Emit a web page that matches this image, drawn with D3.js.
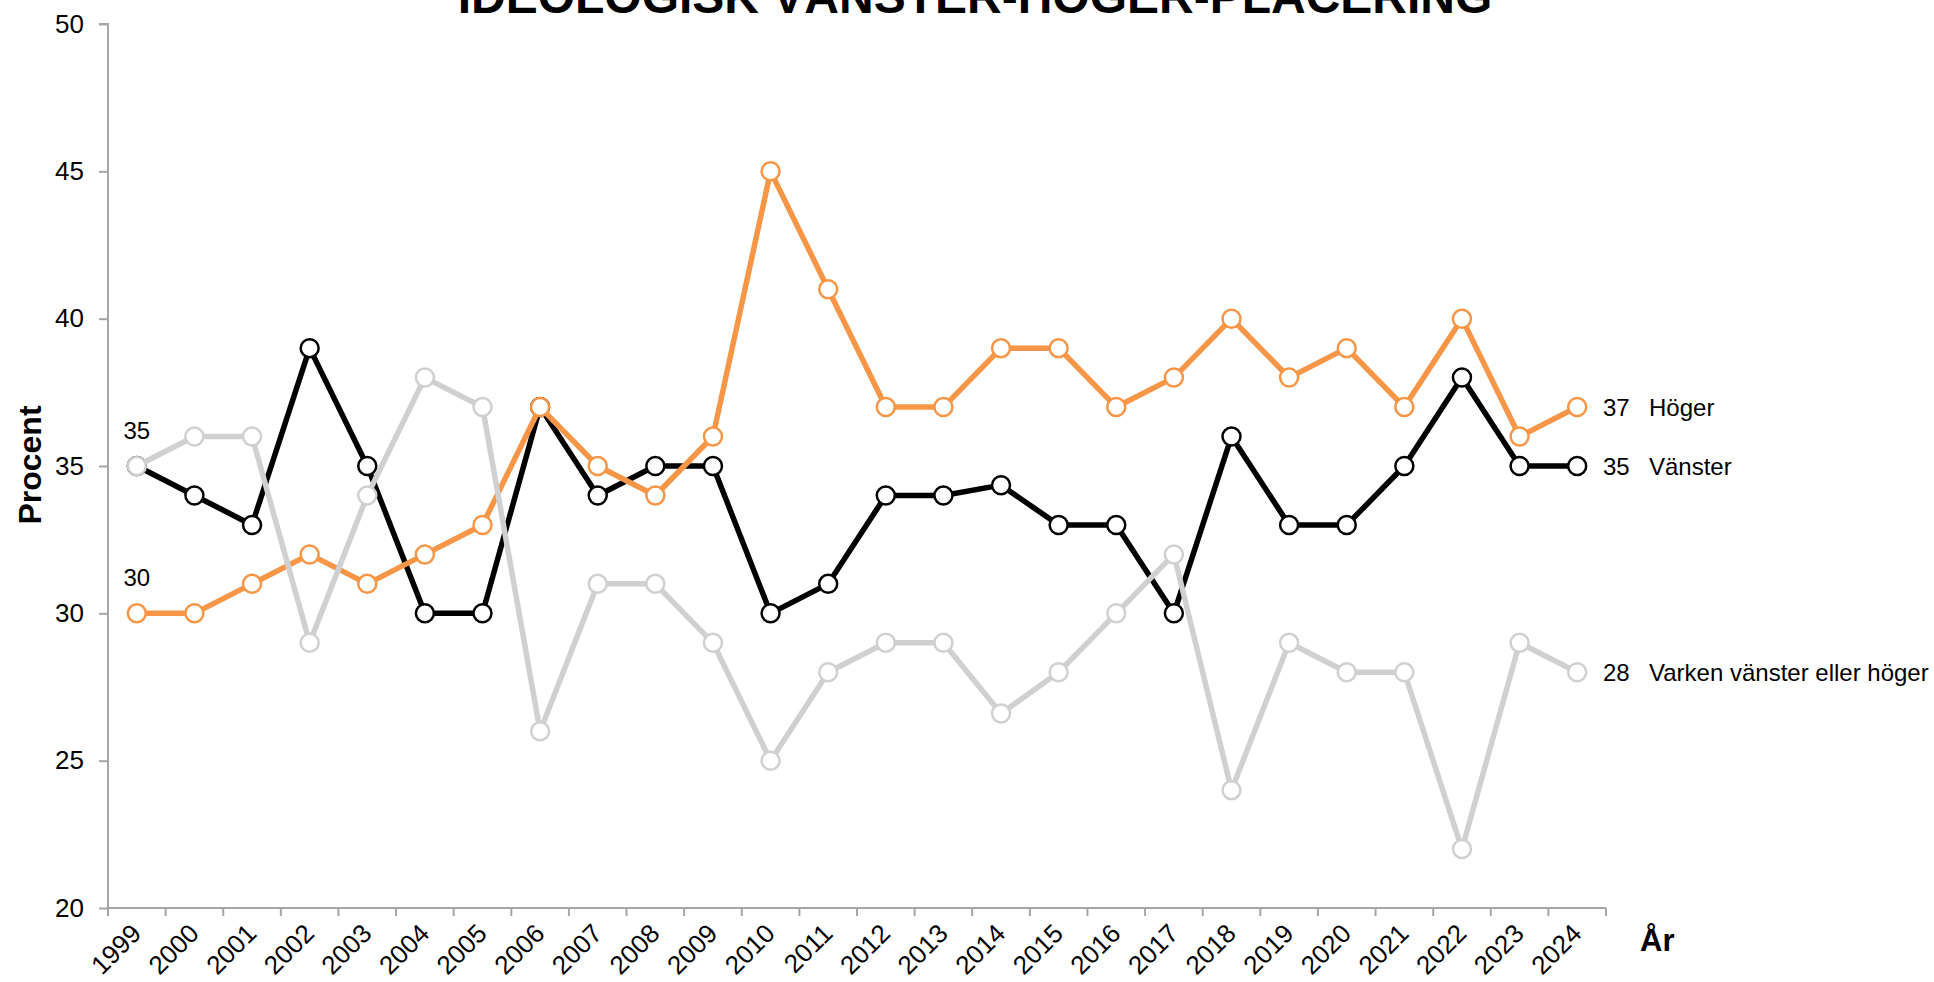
<!DOCTYPE html>
<html>
<head>
<meta charset="utf-8">
<script src="https://cdn.jsdelivr.net/npm/d3@7"></script>
<style>
  body { margin: 0; background: #fff; }
  svg { display: block; font-family: "Liberation Sans", Arial, sans-serif; }
</style>
</head>
<body>
<svg id="chart"></svg>
<script>
const years = [1999, 2000, 2001, 2002, 2003, 2004, 2005, 2006, 2007, 2008, 2009, 2010, 2011,
               2012, 2013, 2014, 2015, 2016, 2017, 2018, 2019, 2020, 2021, 2022, 2023, 2024]

const vanster = [35, 34, 33, 39, 35, 30, 30, 37, 34, 35, 35, 30, 31,
                 34, 34, 34.35, 33, 33, 30, 36, 33, 33, 35, 38, 35, 35]
const hoger = [30, 30, 31, 32, 31, 32, 33, 37, 35, 34, 36, 45, 41,
               37, 37, 39, 39, 37, 38, 40, 38, 39, 37, 40, 36, 37]
const varken = [35, 36, 36, 29, 34, 38, 37, 26, 31, 31, 29, 25, 28,
                29, 29, 26.6, 28, 30, 32, 24, 29, 28, 28, 22, 29, 28]

const seriesNames = ["Vänster", "Höger", "Varken vänster eller höger"]
const yTicks = [20, 25, 30, 35, 40, 45, 50]

const w = 1934
const h = 982
const padLeft = 108, padRight = 1606, padTop = 24, padBottom = 908

const svg = d3.select("#chart")
    .attr("width", w)
    .attr("height", h)

// scales
const xScale = d3.scaleBand()
    .domain(years)
    .range([padLeft, padRight])

const yScale = d3.scaleLinear()
    .domain([20, 50])
    .range([padBottom, padTop])

const cx = d => xScale(d) + xScale.bandwidth() / 2

// title (partly cut off at the top, as in the original)
svg.append("text")
    .attr("x", 975)
    .attr("y", 13)
    .attr("text-anchor", "middle")
    .style("font-size", "48px")
    .style("font-weight", "bold")
    .text("IDEOLOGISK VÄNSTER-HÖGER-PLACERING")

// y axis
const axisLeft = d3.axisLeft(yScale)
    .tickValues(yTicks)
    .tickSize(9)
    .tickPadding(15)

const gy = svg.append("g")
    .attr("transform", `translate(${padLeft}, 0)`)
    .call(axisLeft)

gy.select(".domain").attr("stroke", "#a6a6a6").attr("stroke-width", 2).attr("d", `M-9,${padTop}H0V${padBottom}`)
gy.selectAll(".tick line").attr("stroke", "#a6a6a6").attr("stroke-width", 2)
gy.selectAll(".tick text")
    .style("font-size", "26px")
    .style("font-family", "Liberation Sans, Arial, sans-serif")
    .attr("fill", "#000")

// x axis (ticks between categories)
svg.append("line")
    .attr("x1", padLeft).attr("x2", padRight)
    .attr("y1", padBottom).attr("y2", padBottom)
    .attr("stroke", "#a6a6a6").attr("stroke-width", 2)

svg.selectAll(".xtick")
    .data(years.map(d => xScale(d)).concat([padRight]))
    .enter()
    .append("line")
    .attr("class", "xtick")
    .attr("x1", d => d).attr("x2", d => d)
    .attr("y1", padBottom).attr("y2", padBottom + 8)
    .attr("stroke", "#a6a6a6").attr("stroke-width", 2)

svg.selectAll(".xlabel")
    .data(years)
    .enter()
    .append("text")
    .attr("class", "xlabel")
    .attr("transform", d => `translate(${cx(d) + 6}, 935) rotate(-45)`)
    .attr("text-anchor", "end")
    .style("font-size", "26px")
    .text(d => d)

// axis titles
svg.append("text")
    .attr("transform", "translate(41, 465) rotate(-90)")
    .attr("text-anchor", "middle")
    .style("font-size", "32px")
    .style("font-weight", "bold")
    .text("Procent")

svg.append("text")
    .attr("x", 1640)
    .attr("y", 951)
    .style("font-size", "31px")
    .style("font-weight", "bold")
    .text("År")

// lines
const line = d3.line()
    .x((d, i) => cx(years[i]))
    .y(d => yScale(d))

const series = [
    { name: seriesNames[0], values: vanster, color: "#000000" },
    { name: seriesNames[1], values: hoger, color: "#f79646" },
    { name: seriesNames[2], values: varken, color: "#d0d0d0" }
]

series.forEach(s => {
    svg.append("path")
        .datum(s.values)
        .attr("fill", "none")
        .attr("stroke", s.color)
        .attr("stroke-width", 5.5)
        .attr("stroke-linejoin", "round")
        .attr("d", line)

    svg.selectAll(null)
        .data(s.values)
        .enter()
        .append("circle")
        .attr("cx", (d, i) => cx(years[i]))
        .attr("cy", d => yScale(d))
        .attr("r", 9)
        .attr("fill", "#fff")
        .attr("stroke", s.color)
        .attr("stroke-width", 2.5)
})

// first-year labels
svg.append("text")
    .attr("x", cx(years[0]))
    .attr("y", yScale(vanster[0]) - 27)
    .attr("text-anchor", "middle")
    .style("font-size", "24px")
    .text(vanster[0])

svg.append("text")
    .attr("x", cx(years[0]))
    .attr("y", yScale(hoger[0]) - 27)
    .attr("text-anchor", "middle")
    .style("font-size", "24px")
    .text(hoger[0])

// end labels
const last = years.length - 1
const endLabels = [
    { v: hoger[last], name: seriesNames[1] },
    { v: vanster[last], name: seriesNames[0] },
    { v: varken[last], name: seriesNames[2] }
]

endLabels.forEach(d => {
    svg.append("text")
        .attr("x", 1603)
        .attr("y", yScale(d.v) + 9)
        .style("font-size", "24px")
        .text(d.v)
    svg.append("text")
        .attr("x", 1649)
        .attr("y", yScale(d.v) + 9)
        .style("font-size", "24px")
        .text(d.name)
})
</script>
</body>
</html>
